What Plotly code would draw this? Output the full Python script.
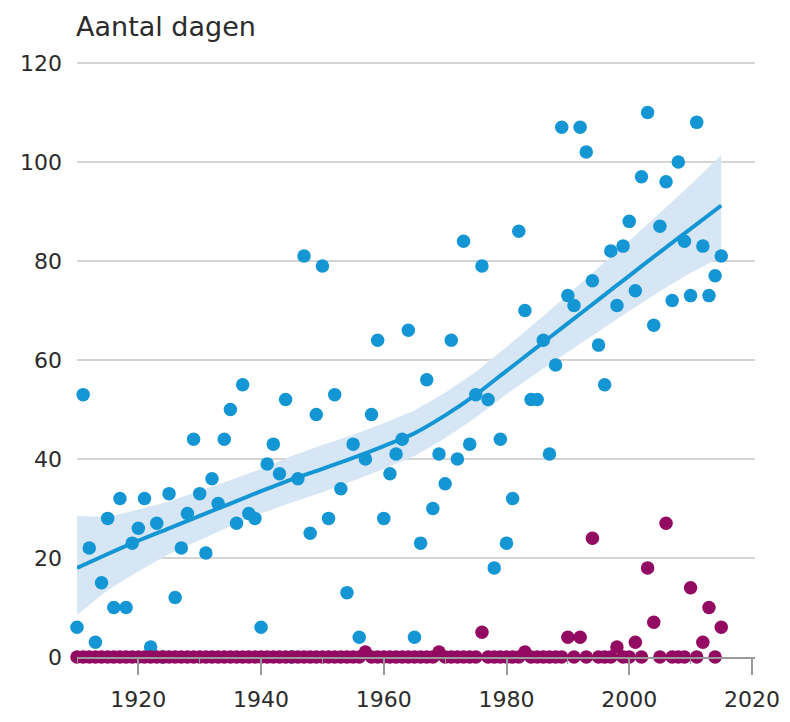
import plotly.graph_objects as go

# ---------------- data ----------------
years = list(range(1910, 2016))

blue_values = [
    6, 53, 22, 3, 15, 28, 10, 32, 10, 23,        # 1910-1919
    26, 32, 2, 27, 0, 33, 12, 22, 29, 44,        # 1920-1929
    33, 21, 36, 31, 44, 50, 27, 55, 29, 28,      # 1930-1939
    6, 39, 43, 37, 52, 0, 36, 81, 25, 49,        # 1940-1949
    79, 28, 53, 34, 13, 43, 4, 40, 49, 64,       # 1950-1959
    28, 37, 41, 44, 66, 4, 23, 56, 30, 41,       # 1960-1969
    35, 64, 40, 84, 43, 53, 79, 52, 18, 44,      # 1970-1979
    23, 32, 86, 70, 52, 52, 64, 41, 59, 107,     # 1980-1989
    73, 71, 107, 102, 76, 63, 55, 82, 71, 83,    # 1990-1999
    88, 74, 97, 110, 67, 87, 96, 72, 100, 84,    # 2000-2009
    73, 108, 83, 73, 77, 81,                     # 2010-2015
]

magenta_values = [
    0, 0, 0, 0, 0, 0, 0, 0, 0, 0,                # 1910-1919
    0, 0, 0, 0, 0, 0, 0, 0, 0, 0,                # 1920-1929
    0, 0, 0, 0, 0, 0, 0, 0, 0, 0,                # 1930-1939
    0, 0, 0, 0, 0, 0, 0, 0, 0, 0,                # 1940-1949
    0, 0, 0, 0, 0, 0, 0, 1, 0, 0,                # 1950-1959
    0, 0, 0, 0, 0, 0, 0, 0, 0, 1,                # 1960-1969
    0, 0, 0, 0, 0, 0, 5, 0, 0, 0,                # 1970-1979
    0, 0, 0, 1, 0, 0, 0, 0, 0, 0,                # 1980-1989
    4, 0, 4, 0, 24, 0, 0, 0, 2, 0,               # 1990-1999
    0, 3, 0, 18, 7, 0, 27, 0, 0, 0,              # 2000-2009
    14, 0, 3, 10, 0, 6,                          # 2010-2015
]

trend_years = [1910, 1915, 1920, 1925, 1930, 1935, 1940, 1945, 1950, 1955, 1960,
               1965, 1970, 1975, 1980, 1985, 1990, 1995, 2000, 2005, 2010, 2015]
trend_values = [18, 20.8, 23.5, 26, 28.5, 31, 33.5, 35.9, 38, 40.2, 42.6,
                45.2, 48.8, 53, 57.8, 62.6, 67.4, 72.2, 77, 81.8, 86.5, 91.2]
trend_lower = [8.5, 13.5, 17.3, 20.8, 23.6, 26.4, 29, 31.2, 33.3, 35.6, 38,
               40.6, 44.2, 48.4, 53.1, 57.4, 61.6, 65.8, 69.9, 73.9, 77.6, 80.8]
trend_upper = [28.5, 28.3, 29.8, 31.4, 33.6, 35.7, 38, 40.6, 42.8, 44.9, 47.2,
               49.8, 53.4, 57.6, 62.6, 67.8, 73.2, 78.6, 84.1, 89.7, 95.4, 101.4]

x_ticks = [1920, 1940, 1960, 1980, 2000, 2020]
y_ticks = [0, 20, 40, 60, 80, 100, 120]
y_title = "Aantal dagen"

# ---------------- styles ----------------
BLUE = "#1596d4"
MAGENTA = "#930a62"
BAND = "#d6e6f4"
GRID = "#d4d4d4"
AXIS = "#9a9a9a"
TEXT = "#2b2b2b"
FONT = "DejaVu Sans"

fig = go.Figure()

# confidence band
fig.add_trace(go.Scatter(
    x=trend_years + trend_years[::-1],
    y=trend_upper + trend_lower[::-1],
    fill="toself", fillcolor=BAND, line=dict(width=0),
    mode="lines", hoverinfo="skip", showlegend=False,
))

# blue dots
fig.add_trace(go.Scatter(
    x=years, y=blue_values, mode="markers",
    marker=dict(color=BLUE, size=13.5, line=dict(width=0)),
    cliponaxis=False, showlegend=False,
))

# trend line
fig.add_trace(go.Scatter(
    x=trend_years, y=trend_values, mode="lines",
    line=dict(color=BLUE, width=4, shape="spline", smoothing=0.8),
    showlegend=False,
))

# magenta dots
fig.add_trace(go.Scatter(
    x=years, y=magenta_values, mode="markers",
    marker=dict(color=MAGENTA, size=13.5, line=dict(width=0)),
    cliponaxis=False, showlegend=False,
))

fig.update_layout(
    width=790, height=722,
    margin=dict(l=67, r=43, t=50, b=73),
    paper_bgcolor="white", plot_bgcolor="white",
    font=dict(family=FONT, color=TEXT, size=22),
    showlegend=False,
    annotations=[dict(
        text=y_title, xref="paper", yref="paper", x=0.0, y=1.0,
        xanchor="left", yanchor="bottom", yshift=14, xshift=-3,
        showarrow=False,
        font=dict(family=FONT, size=27, color=TEXT),
    )],
)

fig.update_xaxes(
    range=[1910, 2020.5],
    tickvals=x_ticks, ticktext=[str(t) for t in x_ticks],
    showgrid=False, zeroline=False,
    showline=True, linecolor=AXIS, linewidth=1.5,
    ticks="outside", ticklen=16, tickwidth=1.5, tickcolor=AXIS,
    minor=dict(dtick=10, tick0=1910, ticks="outside", ticklen=5,
               tickwidth=1, tickcolor=AXIS),
    tickfont=dict(size=22, color=TEXT, family=FONT),
    ticklabelstandoff=6,
    fixedrange=True,
)

fig.update_yaxes(
    range=[0, 121],
    tickvals=y_ticks, ticktext=[str(t) for t in y_ticks],
    showgrid=True, gridcolor=GRID, gridwidth=1.5,
    zeroline=False, showline=False, ticks="",
    tickfont=dict(size=22, color=TEXT, family=FONT),
    ticklabelstandoff=14,
    fixedrange=True,
)

fig.write_html("out.html")
